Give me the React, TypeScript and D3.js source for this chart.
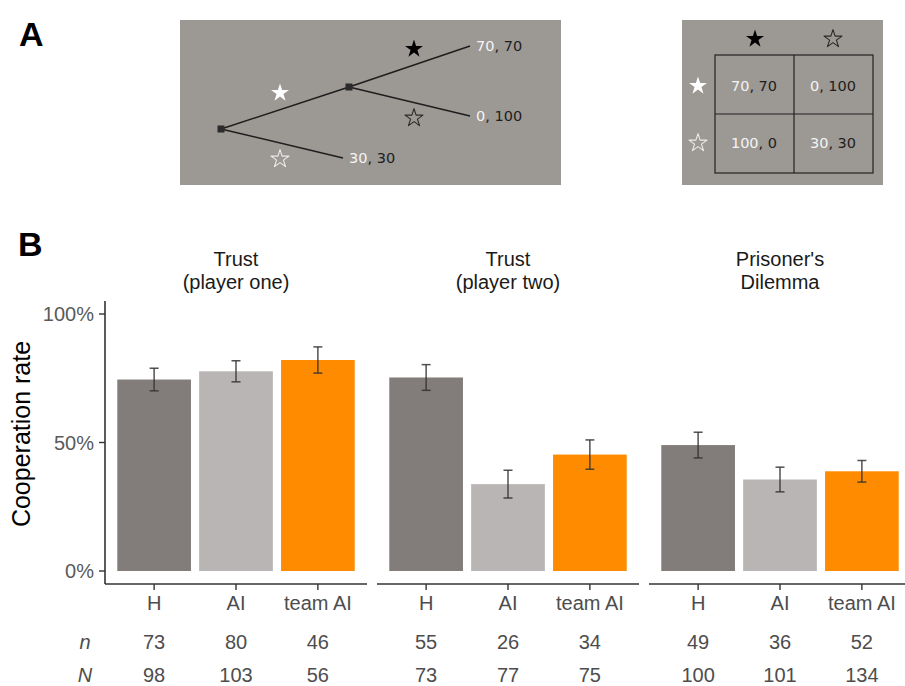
import React from "react";
import * as d3 from "d3";

const gameTitles = [["Trust", "(player one)"], ["Trust", "(player two)"], ["Prisoner's", "Dilemma"]];
const groups = ["H", "AI", "team AI"];
const coopRate = [
  [0.745, 0.777, 0.821],
  [0.753, 0.338, 0.453],
  [0.49, 0.356, 0.388],
];
const stdErr = [
  [0.044, 0.041, 0.051],
  [0.05, 0.054, 0.057],
  [0.05, 0.048, 0.042],
];
const nCoop = [
  [73, 80, 46],
  [55, 26, 34],
  [49, 36, 52],
];
const nTotal = [
  [98, 103, 56],
  [73, 77, 75],
  [100, 101, 134],
];
const yTicks = [0, 0.5, 1];
const groupColors = ["#827d7a", "#b8b5b4", "#ff8c00"];

const treeLeaves = [["70", "70"], ["0", "100"], ["30", "30"]];
const matrixPayoffs = [
  [["70", "70"], ["0", "100"]],
  [["100", "0"], ["30", "30"]],
];

const W = 905;
const H = 686;
const SANS = "'Liberation Sans', Arial, Helvetica, sans-serif";
const DEJAVU = "'DejaVu Sans', sans-serif";
const GRAY_BG = "#9c9894";

const starPath = d3.symbol().type(d3.symbolStar).size(100)();

function Star({ x, y, fill, stroke }: { x: number; y: number; fill: string; stroke?: string }) {
  return (
    <path
      d={starPath || ""}
      transform={`translate(${x},${y})`}
      fill={fill}
      stroke={stroke || "none"}
      strokeWidth={stroke ? 1.1 : 0}
      strokeLinejoin="round"
    />
  );
}

function Payoff({ x, y, p, anchor }: { x: number; y: number; p: string[]; anchor: string }) {
  return (
    <text x={x} y={y} fontFamily={DEJAVU} fontSize={14.5} textAnchor={anchor} dominantBaseline="central">
      <tspan fill="#f4f4f4">{p[0]}</tspan>
      <tspan fill="#1e1e1e">{", " + p[1]}</tspan>
    </text>
  );
}

export default function App() {
  // panel B scales
  const y = d3.scaleLinear().domain([0, 1]).range([571, 314]);
  const panelW = 262;
  const panelGap = 10;
  const panelX0 = 105;
  const facet = d3
    .scaleBand<number>()
    .domain(gameTitles.map((_, i) => i))
    .range([panelX0, panelX0 + 3 * panelW + 2 * panelGap])
    .paddingInner(panelGap / (panelW + panelGap))
    .paddingOuter(0);
  const axisY = 584;
  const topY = 301;

  const root = { x: 221, y: 129 };
  const mid = { x: 349, y: 87 };
  const leaves = [
    { x: 470, y: 46 },
    { x: 470, y: 116 },
    { x: 343, y: 158 },
  ];

  return (
    <svg width={W} height={H} style={{ position: "absolute", left: 0, top: 0, background: "#fff" }}>
      {/* Panel A */}
      <text x={19} y={46} fontFamily={SANS} fontWeight="bold" fontSize={34} fill="#000">
        A
      </text>
      <rect x={180} y={20} width={381} height={165} fill={GRAY_BG} />
      <g stroke="#1e1e1e" strokeWidth={1.5}>
        <line x1={root.x} y1={root.y} x2={mid.x} y2={mid.y} />
        <line x1={root.x} y1={root.y} x2={leaves[2].x} y2={leaves[2].y} />
        <line x1={mid.x} y1={mid.y} x2={leaves[0].x} y2={leaves[0].y} />
        <line x1={mid.x} y1={mid.y} x2={leaves[1].x} y2={leaves[1].y} />
      </g>
      {[root, mid].map((n, i) => (
        <rect key={i} x={n.x - 3.5} y={n.y - 3.5} width={7} height={7} fill="#2b2b2b" />
      ))}
      <Star x={280} y={93} fill="#ffffff" />
      <Star x={280} y={159} fill="none" stroke="#ececec" />
      <Star x={414} y={49} fill="#000000" />
      <Star x={414} y={118} fill="none" stroke="#2a2a2a" />
      {treeLeaves.map((p, i) => (
        <Payoff key={i} x={leaves[i].x + 6} y={leaves[i].y} p={p} anchor="start" />
      ))}

      {/* Matrix */}
      <rect x={682} y={20} width={201} height={165} fill={GRAY_BG} />
      <g stroke="#222" strokeWidth={1.2} fill="none">
        <rect x={715} y={55} width={158} height={118} />
        <line x1={794} y1={55} x2={794} y2={173} />
        <line x1={715} y1={114} x2={873} y2={114} />
      </g>
      <Star x={755} y={39} fill="#000000" />
      <Star x={833} y={39} fill="none" stroke="#2a2a2a" />
      <Star x={698} y={86} fill="#ffffff" />
      <Star x={698} y={143} fill="none" stroke="#ececec" />
      {matrixPayoffs.map((row, r) =>
        row.map((p, c) => (
          <Payoff key={`${r}-${c}`} x={c === 0 ? 754 : 833} y={r === 0 ? 86 : 143} p={p} anchor="middle" />
        ))
      )}

      {/* Panel B */}
      <text x={18} y={256} fontFamily={SANS} fontWeight="bold" fontSize={34} fill="#000">
        B
      </text>
      <text
        transform={`translate(30,434) rotate(-90)`}
        fontFamily={SANS}
        fontSize={25}
        textAnchor="middle"
        fill="#000"
      >
        Cooperation rate
      </text>
      {/* y axis */}
      <line x1={105} y1={topY} x2={105} y2={axisY} stroke="#333" strokeWidth={1.6} />
      {yTicks.map((t) => (
        <g key={t}>
          <line x1={99} x2={105} y1={y(t)} y2={y(t)} stroke="#333" strokeWidth={1.4} />
          <text
            x={94}
            y={y(t)}
            textAnchor="end"
            dominantBaseline="central"
            fontFamily={SANS}
            fontSize={20}
            fill="#5a5a5a"
          >
            {d3.format(".0%")(t)}
          </text>
        </g>
      ))}
      <text x={85} y={649} textAnchor="middle" fontFamily={SANS} fontStyle="italic" fontSize={20} fill="#4d4d4d">
        n
      </text>
      <text x={85} y={682} textAnchor="middle" fontFamily={SANS} fontStyle="italic" fontSize={20} fill="#4d4d4d">
        N
      </text>
      {gameTitles.map((title, gi) => {
        const x0 = facet(gi) as number;
        const xb = d3
          .scaleBand<string>()
          .domain(groups)
          .range([x0, x0 + facet.bandwidth()])
          .paddingInner(0.1)
          .paddingOuter(0.15);
        const cx = x0 + facet.bandwidth() / 2;
        return (
          <g key={gi}>
            <text x={cx} y={266} textAnchor="middle" fontFamily={SANS} fontSize={20} fill="#1a1a1a">
              {title[0]}
            </text>
            <text x={cx} y={289} textAnchor="middle" fontFamily={SANS} fontSize={20} fill="#1a1a1a">
              {title[1]}
            </text>
            {groups.map((g, i) => {
              const bx = xb(g) as number;
              const bw = xb.bandwidth();
              const mx = bx + bw / 2;
              const v = coopRate[gi][i];
              const e = stdErr[gi][i];
              return (
                <g key={g}>
                  <rect x={bx} y={y(v)} width={bw} height={y(0) - y(v)} fill={groupColors[i]} />
                  <g stroke="#333" strokeOpacity={0.85} strokeWidth={1.5}>
                    <line x1={mx} x2={mx} y1={y(v - e)} y2={y(v + e)} />
                    <line x1={mx - 4.5} x2={mx + 4.5} y1={y(v - e)} y2={y(v - e)} />
                    <line x1={mx - 4.5} x2={mx + 4.5} y1={y(v + e)} y2={y(v + e)} />
                  </g>
                  <line x1={mx} x2={mx} y1={axisY} y2={axisY + 6} stroke="#333" strokeWidth={1.4} />
                  <text x={mx} y={610} textAnchor="middle" fontFamily={SANS} fontSize={20} fill="#4d4d4d">
                    {g}
                  </text>
                  <text x={mx} y={649} textAnchor="middle" fontFamily={SANS} fontSize={20} fill="#4d4d4d">
                    {nCoop[gi][i]}
                  </text>
                  <text x={mx} y={682} textAnchor="middle" fontFamily={SANS} fontSize={20} fill="#4d4d4d">
                    {nTotal[gi][i]}
                  </text>
                </g>
              );
            })}
            <line x1={x0} x2={x0 + facet.bandwidth()} y1={axisY} y2={axisY} stroke="#333" strokeWidth={1.6} />
          </g>
        );
      })}
    </svg>
  );
}
